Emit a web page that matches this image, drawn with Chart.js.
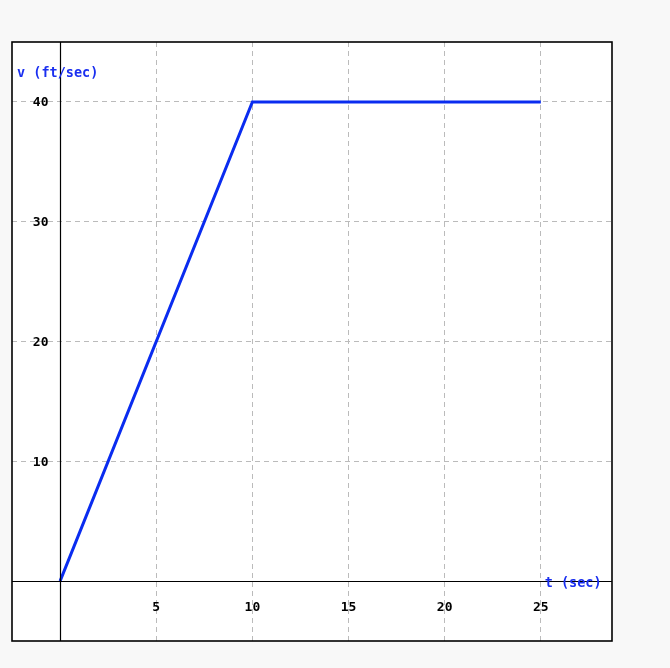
<!DOCTYPE html>
<html>
<head>
<meta charset="utf-8">
<script src="https://cdn.jsdelivr.net/npm/chart.js@4"></script>
<style>
  html, body { margin: 0; padding: 0; background: #f8f8f8; }
  #wrap { width: 670px; height: 668px; position: relative; }
</style>
</head>
<body>
<div id="wrap"><canvas id="chart"></canvas></div>
<script>
// velocity vs time data
const times = [0, 10, 25]
const velocities = [0, 40, 40]
const xTicks = [5, 10, 15, 20, 25]
const yTicks = [10, 20, 30, 40]
const xTitle = "t (sec)"
const yTitle = "v (ft/sec)"

const points = times.map((t, i) => ({x: t, y: velocities[i]}))

// draws white plot bg, axes through zero, labels and the frame
const axesPlugin = {
    id: "axesPlugin",
    beforeDraw(chart) {
        const ctx = chart.ctx
        const a = chart.chartArea
        ctx.save()
        ctx.fillStyle = "#ffffff"
        ctx.fillRect(a.left, a.top, a.right - a.left, a.bottom - a.top)
        ctx.restore()
    },
    afterDatasetsDraw(chart) {
        const ctx = chart.ctx
        const a = chart.chartArea
        const xs = chart.scales.x
        const ys = chart.scales.y
        const x0 = Math.round(xs.getPixelForValue(0)) + 0.5
        const y0 = Math.round(ys.getPixelForValue(0)) + 0.5
        ctx.save()
        ctx.strokeStyle = "#000"
        ctx.lineWidth = 1.2
        ctx.beginPath()
        ctx.moveTo(a.left, y0); ctx.lineTo(a.right, y0)
        ctx.moveTo(x0, a.top); ctx.lineTo(x0, a.bottom)
        ctx.stroke()
        ctx.lineWidth = 1.6
        ctx.strokeRect(a.left, a.top, a.right - a.left, a.bottom - a.top)

        ctx.fillStyle = "#000"
        ctx.font = "bold 13px 'DejaVu Sans Mono'"
        ctx.textAlign = "center"
        ctx.textBaseline = "middle"
        xTicks.forEach(v => ctx.fillText(String(v), xs.getPixelForValue(v), y0 + 26))
        ctx.textAlign = "right"
        yTicks.forEach(v => ctx.fillText(String(v), x0 - 12, ys.getPixelForValue(v) + 1))

        ctx.fillStyle = "#1a2ff0"
        ctx.font = "bold 13.5px 'DejaVu Sans Mono'"
        ctx.textAlign = "left"
        ctx.fillText(yTitle, a.left + 5, ys.getPixelForValue(42.4))
        ctx.fillText(xTitle, xs.getPixelForValue(25.2), y0 + 2)
        ctx.restore()
    }
}

new Chart(document.getElementById("chart"), {
    type: "scatter",
    data: {
        datasets: [{
            data: points,
            showLine: true,
            borderColor: "#0a2cf0",
            borderWidth: 3,
            pointRadius: 0,
            tension: 0
        }]
    },
    options: {
        responsive: true,
        maintainAspectRatio: false,
        animation: false,
        layout: { padding: { left: 12, top: 42, right: 58, bottom: 27 } },
        plugins: { legend: { display: false }, tooltip: { enabled: false } },
        scales: {
            x: {
                type: "linear", min: -2.5, max: 28.7,
                afterBuildTicks: s => { s.ticks = xTicks.map(v => ({value: v})) },
                ticks: { display: false },
                grid: { color: "#bbbbbb", lineWidth: 1, drawTicks: false },
                border: { display: false, dash: [5, 4] }
            },
            y: {
                type: "linear", min: -5, max: 45,
                afterBuildTicks: s => { s.ticks = yTicks.map(v => ({value: v})) },
                ticks: { display: false },
                grid: { color: "#bbbbbb", lineWidth: 1, drawTicks: false },
                border: { display: false, dash: [5, 4] }
            }
        }
    },
    plugins: [axesPlugin]
})
</script>
</body>
</html>
